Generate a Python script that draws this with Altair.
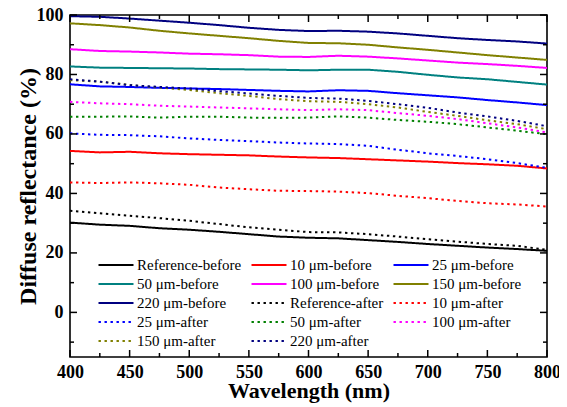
import altair as alt
import pandas as pd

# ---------------- data ----------------
wavelengths = [400, 425, 450, 475, 500, 525, 550, 575, 600, 625, 650, 675, 700, 725, 750, 775, 800]

series_names = [
    "Reference-before", "10 μm-before", "25 μm-before",
    "50 μm-before", "100 μm-before", "150 μm-before",
    "220 μm-before", "Reference-after", "10 μm-after",
    "25 μm-after", "50 μm-after", "100 μm-after",
    "150 μm-after", "220 μm-after",
]
series_colors = [
    "#000000", "#FF0000", "#0000FF", "#008080", "#FF00FF", "#808000", "#000080",
    "#000000", "#FF0000", "#0000FF", "#008000", "#FF00FF", "#808000", "#000080",
]

ref_before   = [30.2, 29.5, 29.1, 28.3, 27.8, 27.1, 26.3, 25.5, 25.1, 24.9, 24.3, 23.7, 23.0, 22.4, 21.8, 21.3, 20.7]
um10_before  = [54.3, 53.8, 54.0, 53.5, 53.2, 53.0, 52.8, 52.4, 52.1, 51.9, 51.5, 51.1, 50.7, 50.2, 49.8, 49.3, 48.4]
um25_before  = [76.7, 76.0, 75.8, 75.5, 75.3, 75.1, 74.8, 74.5, 74.3, 74.7, 74.5, 73.7, 73.0, 72.3, 71.4, 70.6, 69.7]
um50_before  = [82.7, 82.3, 82.2, 82.1, 82.0, 81.8, 81.7, 81.6, 81.4, 81.6, 81.6, 80.9, 79.9, 79.0, 78.4, 77.5, 76.6]
um100_before = [88.5, 87.9, 87.7, 87.4, 87.0, 86.8, 86.5, 86.0, 85.9, 86.3, 86.0, 85.4, 84.7, 84.0, 83.5, 82.9, 82.2]
um150_before = [97.2, 96.6, 95.8, 94.7, 93.8, 93.0, 92.2, 91.3, 90.6, 90.5, 90.0, 89.1, 88.3, 87.4, 86.5, 85.7, 84.9]
um220_before = [99.6, 99.4, 98.8, 98.1, 97.4, 96.6, 95.7, 95.0, 94.6, 94.7, 94.4, 93.8, 93.0, 92.2, 91.6, 91.1, 90.4]
ref_after    = [34.2, 33.3, 32.5, 31.7, 30.8, 29.7, 28.6, 27.8, 27.0, 26.9, 26.3, 25.5, 24.6, 23.8, 23.0, 22.4, 21.0]
um10_after   = [43.7, 43.5, 43.7, 43.4, 42.9, 42.0, 41.4, 40.9, 40.8, 40.6, 40.1, 39.2, 38.4, 37.5, 36.7, 36.3, 35.6]
um25_after   = [60.2, 59.7, 59.6, 59.2, 58.5, 58.0, 57.6, 57.1, 56.8, 56.6, 56.0, 54.7, 53.5, 52.6, 51.5, 50.2, 48.6]
um50_after   = [65.8, 65.8, 65.9, 65.5, 65.8, 65.8, 65.5, 65.4, 65.5, 65.9, 65.5, 64.7, 64.1, 63.3, 62.2, 61.1, 59.9]
um100_after  = [70.8, 70.3, 70.0, 69.5, 69.2, 68.9, 68.6, 68.3, 68.0, 68.3, 68.0, 67.0, 66.1, 65.0, 63.6, 62.2, 60.5]
um150_after  = [78.1, 77.6, 76.5, 75.6, 74.8, 73.7, 72.8, 71.7, 71.0, 70.8, 70.0, 68.9, 67.4, 66.1, 64.6, 63.3, 61.6]
um220_after  = [78.4, 77.6, 76.4, 75.8, 75.3, 74.4, 73.6, 72.8, 72.1, 71.9, 71.1, 70.0, 68.8, 67.2, 65.9, 64.4, 62.6]

series_values = [
    ref_before, um10_before, um25_before, um50_before, um100_before, um150_before, um220_before,
    ref_after, um10_after, um25_after, um50_after, um100_after, um150_after, um220_after,
]

x_major = [400, 450, 500, 550, 600, 650, 700, 750, 800]
x_minor = [425, 475, 525, 575, 625, 675, 725, 775]
y_major = [0, 20, 40, 60, 80, 100]
y_minor = [-10, 10, 30, 50, 70, 90]

# ---------------- build table ----------------
rows = []
for name, vals in zip(series_names, series_values):
    for w, v in zip(wavelengths, vals):
        rows.append({"wl": w, "val": v, "series": name})
df = pd.DataFrame(rows)

series_dashes = [[1, 0] if n.endswith("before") else [2.4, 3.6] for n in series_names]

W, H = 477, 342
FONT = "Liberation Serif"
MAJ, MIN = 7, 4

x_scale = alt.Scale(domain=[400, 800], nice=False, zero=False)
y_scale = alt.Scale(domain=[-15, 100], nice=False, zero=False)

x_axis = alt.Axis(values=x_major, ticks=False, domain=False, grid=False,
                  labelFont=FONT, labelFontSize=18, labelFontWeight="bold", labelColor="black",
                  labelPadding=6, labelFlush=False,
                  title="Wavelength (nm)", titleFont=FONT, titleFontSize=22,
                  titleFontWeight="bold", titleColor="black", titlePadding=-1)
y_axis = alt.Axis(values=y_major, ticks=False, domain=False, grid=False,
                  labelFont=FONT, labelFontSize=18, labelFontWeight="bold", labelColor="black",
                  labelPadding=7, labelFlush=False,
                  title="Diffuse reflectance (%)", titleFont=FONT, titleFontSize=24,
                  titleFontWeight="bold", titleColor="black", titlePadding=-4)

legend = alt.Legend(title=None, orient="none", legendX=27, legendY=242, columns=3,
                    direction="horizontal",
                    symbolType="stroke", symbolSize=1225, symbolStrokeWidth=2.2,
                    labelFont=FONT, labelFontSize=15, labelColor="black",
                    columnPadding=8, rowPadding=3, clipHeight=16, labelOffset=2, padding=0)

lines = alt.Chart(df).mark_line(strokeWidth=2.0, clip=True).encode(
    x=alt.X("wl:Q", scale=x_scale, axis=x_axis),
    y=alt.Y("val:Q", scale=y_scale, axis=y_axis),
    color=alt.Color("series:N", scale=alt.Scale(domain=series_names, range=series_colors), legend=legend),
    strokeDash=alt.StrokeDash("series:N", scale=alt.Scale(domain=series_names, range=series_dashes), legend=legend),
)

def xticks(vals, length):
    d = pd.DataFrame({"wl": vals})
    bottom = alt.Chart(d).mark_rule(color="black", strokeWidth=1.5).encode(
        x=alt.X("wl:Q", scale=x_scale), y=alt.value(H), y2=alt.value(H - length))
    top = alt.Chart(d).mark_rule(color="black", strokeWidth=1.5).encode(
        x=alt.X("wl:Q", scale=x_scale), y=alt.value(0), y2=alt.value(length))
    return [bottom, top]

def yticks(vals, length):
    d = pd.DataFrame({"val": vals})
    left = alt.Chart(d).mark_rule(color="black", strokeWidth=1.5).encode(
        y=alt.Y("val:Q", scale=y_scale), x=alt.value(0), x2=alt.value(length))
    right = alt.Chart(d).mark_rule(color="black", strokeWidth=1.5).encode(
        y=alt.Y("val:Q", scale=y_scale), x=alt.value(W), x2=alt.value(W - length))
    return [left, right]

layers = [lines] + xticks(x_major, MAJ) + xticks(x_minor, MIN) + yticks(y_major, MAJ) + yticks(y_minor, MIN)

chart = alt.layer(*layers).properties(
    width=W, height=H,
    autosize=alt.AutoSizeParams(type="none"),
    padding={"left": 62, "top": 7, "right": 12, "bottom": 50},
    background="white",
).configure_view(stroke="black", strokeWidth=1.6)

chart.save("out.html", embed_options={"renderer": "svg", "actions": False})
